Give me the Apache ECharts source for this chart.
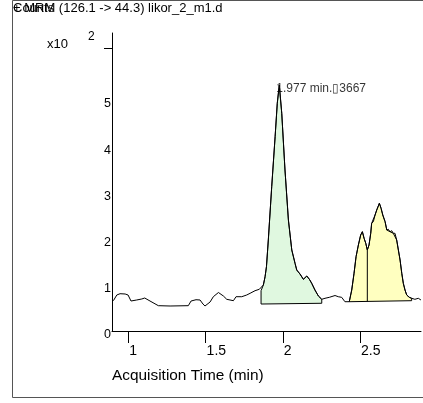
<!DOCTYPE html>
<html>
<head>
<meta charset="utf-8">
<script src="https://cdn.jsdelivr.net/npm/echarts@6/dist/echarts.min.js"></script>
<style>html,body{margin:0;padding:0;background:#fff;}#c{width:423px;height:403px;}</style>
</head>
<body>
<div id="c"></div>
<script>
// ---- data (counts in units of x10^2) ----
const titleText = '+ MRM (126.1 -> 44.3) likor_2_m1.d';
const yTitle = 'Counts';
const xTitle = 'Acquisition Time (min)';
const xTicks = [1, 1.5, 2, 2.5];
const yTicks = [0, 1, 2, 3, 4, 5];
const yExponentTick = [6.12];
const times = [0.903,0.925,0.946,0.979,0.998,1.017,1.054,1.087,1.106,1.140,
  1.194,1.270,1.388,1.406,1.438,1.464,1.483,1.496,1.529,1.550,
  1.583,1.615,1.637,1.680,1.697,1.734,1.766,1.788,1.820,1.848,
  1.859,1.874,1.885,1.894,1.906,1.928,1.950,1.964,1.977,1.993,
  2.014,2.036,2.058,2.079,2.090,2.111,2.133,2.155,2.172,2.187,
  2.208,2.230,2.252,2.273,2.301,2.338,2.359,2.381,2.402,2.430,
  2.446,2.461,2.474,2.489,2.504,2.515,2.526,2.537,2.547,2.558,
  2.569,2.575,2.586,2.597,2.608,2.625,2.636,2.647,2.662,2.673,
  2.683,2.694,2.705,2.715,2.726,2.737,2.748,2.759,2.770,2.780,
  2.791,2.802,2.819,2.834,2.855,2.877,2.894];
const counts = [0.656,0.779,0.807,0.801,0.779,0.649,0.671,0.693,0.714,0.649,
  0.548,0.541,0.548,0.649,0.677,0.671,0.584,0.541,0.628,0.742,
  0.833,0.758,0.686,0.656,0.742,0.742,0.779,0.816,0.872,0.903,
  0.872,0.996,1.175,1.392,1.970,3.123,4.206,4.929,5.325,4.712,
  3.485,2.403,1.753,1.465,1.320,1.234,1.119,1.190,1.119,1.032,
  0.887,0.758,0.686,0.708,0.729,0.768,0.742,0.729,0.634,0.634,
  0.887,1.249,1.608,1.861,2.078,2.149,2.006,1.898,1.753,1.861,
  2.115,2.331,2.366,2.511,2.619,2.764,2.656,2.511,2.366,2.186,
  2.201,2.149,2.171,2.115,2.115,1.970,1.753,1.537,1.249,1.032,
  0.887,0.779,0.729,0.708,0.686,0.708,0.671];
// integration windows [start, end] and baseline values at [start, end]
const peak1Window = [1.859, 2.252];
const peak1Baseline = [0.584, 0.600];
const peak2Window = [2.430, 2.834];
const peak2Baseline = [0.634, 0.656];
const peak2Split = [2.547];
const peakLabelPoint = [1.977, 5.325];
const peakLabelText = '1.977 min.\u25AF3667';

// ---- styles ----
const FONT = '"Liberation Sans", Arial, sans-serif';
const fills = ['#E0F8E0', '#FFFFC0'];

const regions = [
  {win: peak1Window, base: peak1Baseline, splits: []},
  {win: peak2Window, base: peak2Baseline, splits: peak2Split}
];
const trace = times.map((t, i) => [t, counts[i]]);

function baseAt(r, x) {
  const f = (x - r.win[0]) / (r.win[1] - r.win[0]);
  return r.base[0] + (r.base[1] - r.base[0]) * f;
}
function curveAt(x) {
  for (let i = 1; i < times.length; i++) {
    if (times[i] >= x) {
      const f = (x - times[i-1]) / (times[i] - times[i-1]);
      return counts[i-1] + (counts[i] - counts[i-1]) * f;
    }
  }
  return counts[counts.length-1];
}

const chart = echarts.init(document.getElementById('c'), null, {renderer: 'canvas'});
chart.setOption({
  animation: false,
  backgroundColor: '#fff',
  grid: {left: 112, right: 2, top: 33, bottom: 72, containLabel: false},
  xAxis: {
    type: 'value', min: 0.894, max: 2.8945,
    axisLine: {show: true, lineStyle: {color: '#000', width: 1}},
    axisTick: {show: true, customValues: xTicks, length: 12, inside: false, lineStyle: {color: '#000'}},
    axisLabel: {show: true, customValues: xTicks, align: 'left', margin: 13, padding: [0,0,0,1],
      fontFamily: FONT, fontSize: 14, color: '#000', formatter: v => String(v)},
    splitLine: {show: false},
    name: xTitle, nameLocation: 'start', nameGap: 0,
    nameTextStyle: {fontFamily: FONT, fontSize: 15.4, color: '#000', align: 'left', verticalAlign: 'top', padding: [37, 0, 0, 0]}
  },
  yAxis: {
    type: 'value', min: 0, max: 6.45,
    axisLine: {show: true, lineStyle: {color: '#000', width: 1}},
    axisTick: {show: true, customValues: yExponentTick, length: 8, inside: false, lineStyle: {color: '#000'}},
    axisLabel: {show: true, customValues: yTicks, margin: 1, verticalAlign: 'middle',
      fontFamily: FONT, fontSize: 12.5, color: '#000', formatter: v => '{a|' + v + '}',
      rich: {a: {fontFamily: FONT, fontSize: 12.5, color: '#000', padding: [8, 0, 0, 0]}}},
    splitLine: {show: false}
  },
  graphic: [
    {type: 'rect', shape: {x: 12.5, y: 0.5, width: 420, height: 397}, style: {fill: 'none', stroke: '#555', lineWidth: 1}, silent: true, z: -10},
    {type: 'text', left: 13, top: 2, style: {text: yTitle, font: '13px ' + FONT, fill: '#000'}},
    {type: 'text', left: 13, top: 2, style: {text: titleText, font: '13px ' + FONT, fill: '#000'}},
    {type: 'text', left: 47, top: 38, style: {text: 'x10', font: '13px ' + FONT, fill: '#000'}},
    {type: 'text', left: 88, top: 31, style: {text: '2', font: '12px ' + FONT, fill: '#000'}}
  ],
  series: [
    {
      type: 'custom',
      coordinateSystem: 'cartesian2d',
      data: regions.map(r => [r.win[0], r.win[1]]),
      encode: {x: [0, 1]},
      z: 1,
      renderItem: function (params, api) {
        const r = regions[params.dataIndex];
        const pts = [api.coord([r.win[0], r.base[0]])];
        pts.push(api.coord([r.win[0], curveAt(r.win[0])]));
        trace.forEach(p => { if (p[0] > r.win[0] && p[0] < r.win[1]) pts.push(api.coord(p)); });
        pts.push(api.coord([r.win[1], curveAt(r.win[1])]));
        pts.push(api.coord([r.win[1], r.base[1]]));
        const children = [{
          type: 'polygon', shape: {points: pts},
          style: {fill: fills[params.dataIndex], stroke: '#000', lineWidth: 1}
        }];
        r.splits.forEach(s => {
          const a = api.coord([s, curveAt(s)]);
          const b = api.coord([s, baseAt(r, s)]);
          children.push({type: 'line', shape: {x1: a[0], y1: a[1], x2: b[0], y2: b[1]}, style: {stroke: '#000', lineWidth: 1}});
        });
        return {type: 'group', children: children};
      }
    },
    {
      type: 'line', data: trace, showSymbol: false, smooth: false, z: 3,
      lineStyle: {color: '#000', width: 1}
    },
    {
      type: 'scatter', data: [peakLabelPoint], symbolSize: 0, z: 4,
      label: {show: true, position: 'right', distance: 0, offset: [-3, 4], formatter: peakLabelText,
        fontFamily: FONT, fontSize: 12, color: '#000'}
    }
  ]
});
</script>
</body>
</html>
